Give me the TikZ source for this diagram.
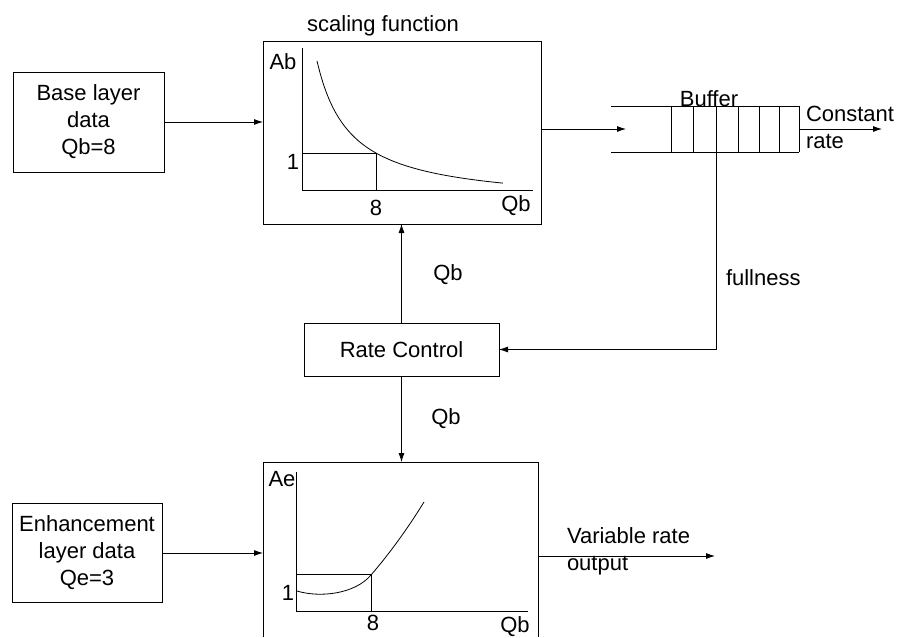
\documentclass[tikz,border=0pt]{standalone}
\usepackage{fontspec}
\setmainfont{Liberation Sans}
\usetikzlibrary{positioning,arrows.meta}

\begin{document}
\begin{tikzpicture}[
    x=1pt, y=-1pt,
    >={Latex[length=9pt,width=6pt]},
    line width=0.8pt,
    every node/.style={font=\fontsize{22}{27}\selectfont, inner sep=0pt, outer sep=0pt},
    box/.style={draw, align=center}
]
    \useasboundingbox (0,0) rectangle (899,637);

    % 方框
    \node[box, minimum width=151pt, minimum height=100pt] (base) at (88.5,122) {Base layer\\data\\Qb=8};
    \node[box, minimum width=278pt, minimum height=183pt] (scale) at (402,132.5) {};
    \node[box, minimum width=195pt, minimum height=53pt] (rate) at (401.5,349.5) {Rate Control};
    \node[box, minimum width=150pt, minimum height=99pt] (enh) at (87,553) {Enhancement\\layer data\\Qe=3};
    \node[minimum width=275pt, minimum height=175pt] (enhplot) at (400.5,549.5) {};
    \draw (enhplot.south west) |- (enhplot.north east) -- (enhplot.south east);
    \node (scaletitle) at (383,26) {scaling function};

    % 缩放函数曲线
    \draw (302,48) |- (533,190);
    \draw (302,153) -| (376,190);
    \draw plot[domain=317:503, samples=60] (\x, {205-4795/(\x-283.7)});
    \node (ab) at (283,62) {Ab};
    \node (one) at (293,162) {1};
    \node (eight) at (376,208) {8};
    \node (qbaxis) at (516,206) {Qb};

    % 缓冲区
    \node[minimum width=188pt, minimum height=46pt] (buffer) at (705,129) {};
    \draw (buffer.north west) -- (buffer.north east) (buffer.south west) -- (buffer.south east);
    \foreach \cx in {671,693,738,759,779,799}
        \draw (\cx,106) -- (\cx,152);
    \node[anchor=base] (buftitle) at (709,106) {Buffer};

    % 连线
    \coordinate (bufin) at (626,129);
    \coordinate (crout) at (882,129);
    \coordinate (fulltop) at (716,106);
    \draw[->] (base.east) -- (base.east -| scale.west);
    \draw[->] (scale.east |- bufin) -- (bufin);
    \draw[->] (buffer.east) -- (crout);
    \node[anchor=west, align=left] (crlabel) at (806,127) {Constant\\rate};
    \draw[->] (fulltop) |- (rate.east);
    \node[anchor=west] (fulllabel) at (726,278) {fullness};
    \draw[->] (rate.north) -- (rate.north |- scale.south);
    \node (qbup) at (448,275) {Qb};
    \draw[->] (rate.south) -- (rate.south |- enhplot.north);
    \node (qbdown) at (446,419) {Qb};

    % 增强层曲线
    \draw (296,472) |- (528,611);
    \draw (296,574) -| (371,611);
    \draw (297,591) .. controls (320,598) and (355,594) .. (371,575) .. controls (390,553) and (408,528) .. (424,502);
    \node (ae) at (282,479) {Ae};
    \node (oneb) at (288,593) {1};
    \node (eightb) at (373,623) {8};
    \node (qbaxisb) at (515,627) {Qb};

    \coordinate (varout) at (715,556);
    \draw[->] (enh.east) -- (enh.east -| enhplot.west);
    \draw[->] (varout -| enhplot.east) -- (varout);
    \node[anchor=west, align=left] (varlabel) at (567,551) {Variable rate\\output};
\end{tikzpicture}
\end{document}
